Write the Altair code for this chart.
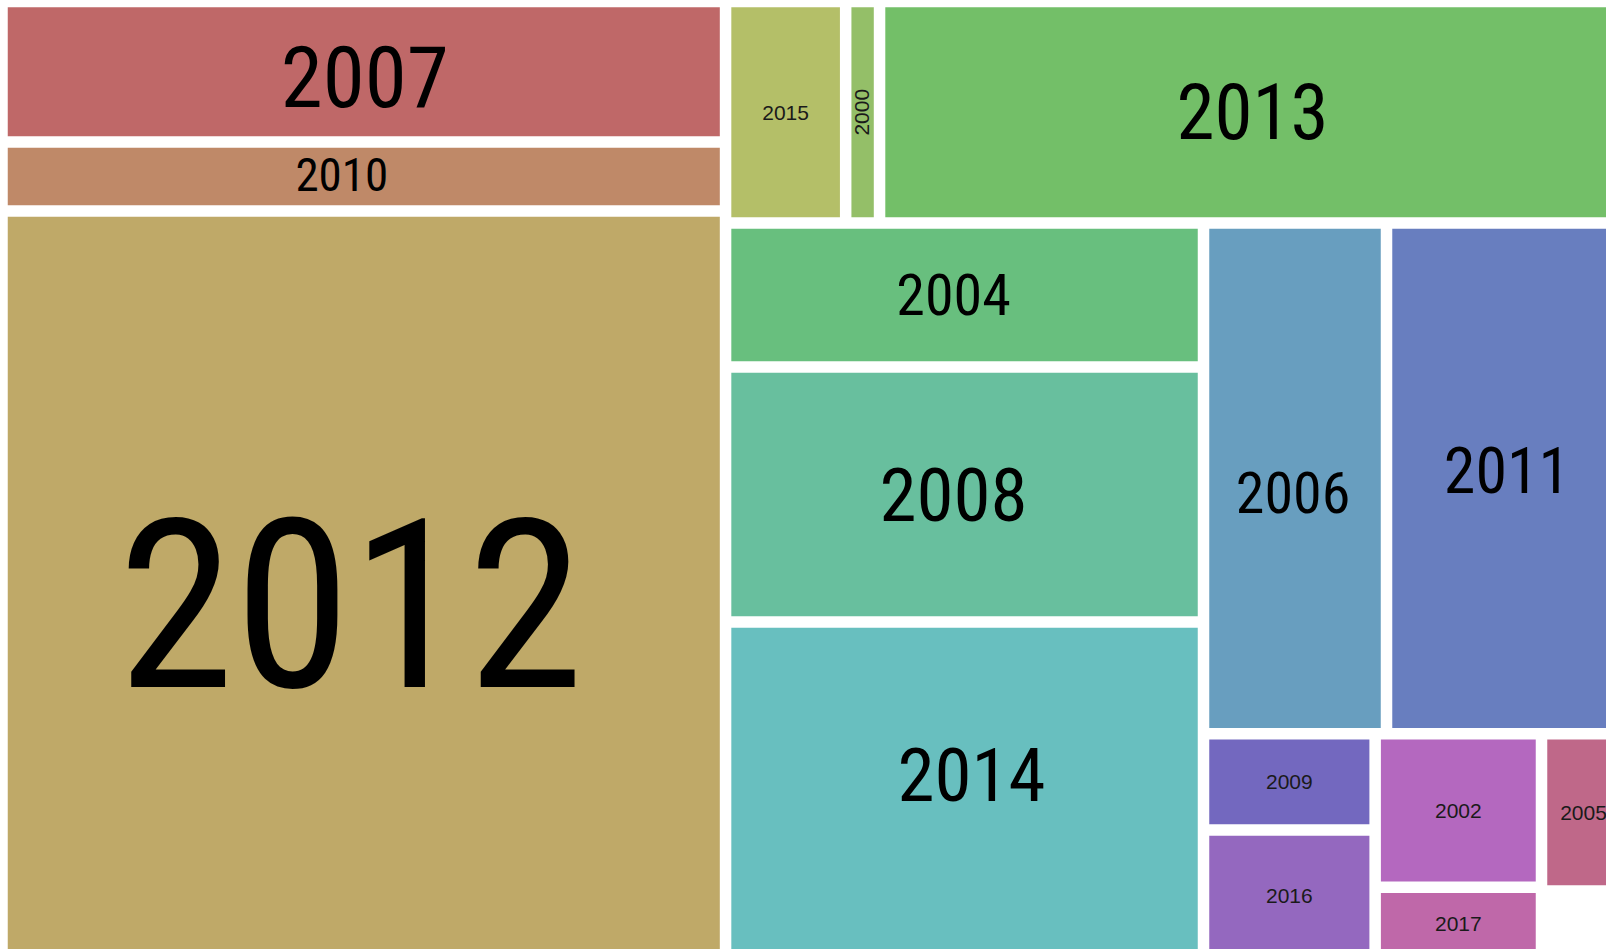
import altair as alt
import pandas as pd

# ---- data ----
years = ["2007", "2010", "2012", "2015", "2000", "2013", "2004", "2008",
         "2014", "2006", "2011", "2009", "2016", "2002", "2017", "2005"]
values = [101.7, 49.9, 542.3, 26.6, 7.5, 165.2, 68.8, 121.9,
          161.8, 93.5, 122.1, 16.5, 22.4, 25.5, 12.2, 13.2]

# ---- styles ----
colors = ["#BF6868", "#BF8968", "#BFA968", "#B4BF68", "#94BF68", "#73BF68",
          "#68BF7E", "#68BF9E", "#68BFBF", "#689EBF", "#687EBF", "#7368BF",
          "#9468BF", "#B468BF", "#BF68A9", "#BF6889"]
big_label_size = {"2007": 85, "2010": 47, "2012": 236, "2013": 77, "2004": 58,
                  "2008": 75, "2014": 75, "2006": 58, "2011": 64}
# label nudges (dx, dy) in pixels relative to the cell centre
label_nudge = {"2012": (-13, 17), "2007": (1, 5), "2010": (-22, -2), "2006": (-2, 14),
               "2011": (1, -8), "2004": (-11, -1), "2008": (-11, 0), "2014": (7, -17),
               "2013": (0, -1)}
small_label_size = 21

# nesting of the slice-and-dice treemap (alternating split direction)
structure = [["2007", "2010", "2012"],
             [["2015", "2000", "2013"],
              [["2004", "2008", "2014"],
               [["2006", "2011"],
                [["2009", "2016"], ["2002", "2017"], ["2005"]]]]]]

VIEW_W, VIEW_H = 1606, 949          # visible canvas
REGION = (2.0, 1.5, 1625.5, 960.5)  # treemap region (extends past the view)
UNIT_AREA = 1000.0                  # px^2 per value unit
HALF_GAP = 5.75

val = dict(zip(years, values))


def total(node):
    if isinstance(node, str):
        return val[node]
    return sum(total(c) for c in node)


def layout(node, x0, y0, x1, y1, axis, out):
    pos = x0 if axis == "x" else y0
    end = x1 if axis == "x" else y1
    cross = (y1 - y0) if axis == "x" else (x1 - x0)
    for i, child in enumerate(node):
        last = i == len(node) - 1
        if isinstance(child, str) or not last:
            ext = total(child) * UNIT_AREA / cross
        else:
            ext = end - pos
        if axis == "x":
            r = (pos, y0, pos + ext, y1)
        else:
            r = (x0, pos, x1, pos + ext)
        if isinstance(child, str):
            out.append((child,) + r)
        else:
            layout(child, *r, "y" if axis == "x" else "x", out)
        pos += ext


cells = []
layout(structure, *REGION, "x", cells)

rows = []
for name, x0, y0, x1, y1 in cells:
    big = name in big_label_size
    fs = big_label_size.get(name, small_label_size)
    dx, dy = label_nudge.get(name, (0, 0))
    cx, cy = (x0 + x1) / 2, (y0 + y1) / 2
    digit_half = 0.3555 if big else 0.358   # half digit height (em)
    rows.append({
        "year": name,
        "value": val[name],
        "x": x0 + HALF_GAP, "x2": x1 - HALF_GAP,
        "y": y0 + HALF_GAP, "y2": y1 - HALF_GAP,
        "cx": cx, "cy": cy,
        "lx": cx + dx, "ly": cy + dy + digit_half * fs,
        "fs": fs,
        "kind": "big" if big else ("vertical" if (x1 - x0) < 40 else "small"),
    })
df = pd.DataFrame(rows)

xs = alt.Scale(domain=[0, VIEW_W], nice=False, zero=False)
ys = alt.Scale(domain=[0, VIEW_H], nice=False, zero=False, reverse=True)

base = alt.Chart(df)

rects = base.mark_rect(clip=True).encode(
    x=alt.X("x:Q", scale=xs, axis=None),
    x2="x2:Q",
    y=alt.Y("y:Q", scale=ys, axis=None),
    y2="y2:Q",
    color=alt.Color("year:N", scale=alt.Scale(domain=years, range=colors), legend=None),
    tooltip=["year:N", "value:Q"],
)

big_text = base.transform_filter(alt.datum.kind == "big").mark_text(
    font="Roboto Condensed, Liberation Sans, sans-serif",
    align="center", baseline="alphabetic", color="#000000", clip=True,
).encode(
    x=alt.X("lx:Q", scale=xs, axis=None),
    y=alt.Y("ly:Q", scale=ys, axis=None),
    text="year:N",
    size=alt.Size("fs:Q", scale=None, legend=None),
)

small_text = base.transform_filter(alt.datum.kind == "small").mark_text(
    font="Liberation Sans, Arial, sans-serif",
    align="center", baseline="alphabetic", color="#1a1a1a", clip=True,
).encode(
    x=alt.X("lx:Q", scale=xs, axis=None),
    y=alt.Y("ly:Q", scale=ys, axis=None),
    text="year:N",
    size=alt.Size("fs:Q", scale=None, legend=None),
)

vert_text = base.transform_filter(alt.datum.kind == "vertical").mark_text(
    font="Liberation Sans, Arial, sans-serif", angle=270,
    align="center", baseline="middle", color="#1a1a1a", clip=True,
).encode(
    x=alt.X("cx:Q", scale=xs, axis=None),
    y=alt.Y("cy:Q", scale=ys, axis=None),
    text="year:N",
    size=alt.Size("fs:Q", scale=None, legend=None),
)

chart = alt.layer(rects, big_text, small_text, vert_text).properties(
    width=VIEW_W, height=VIEW_H, padding=0, autosize="none", background="white",
).configure_view(stroke=None)

chart.save("out.html", embed_options={"renderer": "svg", "actions": False})
